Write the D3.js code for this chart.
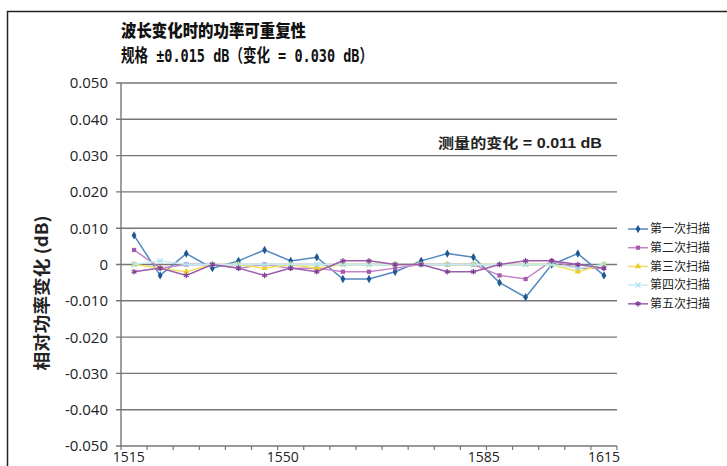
<!DOCTYPE html>
<head>
    <meta charset="utf-8">
    <script src="https://cdnjs.cloudflare.com/ajax/libs/d3/7.8.5/d3.min.js"></script>
    <style>
        body { margin: 0; background: #fff; }
        svg { display: block; }
        .grid line { stroke: #767676; stroke-width: 1.4; }
        .ylab { font-family: "Open Sans", "Noto Sans", sans-serif; font-size: 15px; fill: #222; }
        .xlab { font-family: "Open Sans", "Noto Sans", sans-serif; font-size: 14px; fill: #222; }
        .legend text { font-family: "Noto Sans CJK SC", sans-serif; font-size: 12px; fill: #222; }
        .series path.line { fill: none; stroke-width: 1.5; }
    </style>
</head>
<body>
    <div id="chart"></div>
    <script>
        // sample order along the sweep (19 scan points)
        const samples = [1, 2, 3, 4, 5, 6, 7, 8, 9, 10, 11, 12, 13, 14, 15, 16, 17, 18, 19];

        // wavelength labels (nm) and the sample position they sit under
        const xLabels = ['1515', '1550', '1585', '1615'];
        const xLabelAt = [0.8, 6.7, 14.4, 19];

        const yTicks = [0.05, 0.04, 0.03, 0.02, 0.01, 0, -0.01, -0.02, -0.03, -0.04, -0.05];

        const seriesNames = ['第一次扫描', '第二次扫描', '第三次扫描', '第四次扫描', '第五次扫描'];
        const scan1 = [0.008, -0.003, 0.003, -0.001, 0.001, 0.004, 0.001, 0.002, -0.004, -0.004, -0.002, 0.001, 0.003, 0.002, -0.005, -0.009, 0, 0.003, -0.003];
        const scan2 = [0.004, -0.001, 0, 0, -0.001, 0, -0.001, -0.001, -0.002, -0.002, -0.001, 0, 0, 0, -0.003, -0.004, 0.001, -0.001, -0.001];
        const scan3 = [0, -0.001, -0.002, 0, 0, -0.001, 0, -0.001, 0, 0, 0, 0, 0, 0, 0, 0, 0, -0.002, 0];
        const scan4 = [0, 0.001, 0, 0, 0, 0, 0, 0, 0, 0, 0, 0, 0, 0, 0, 0, 0, -0.001, 0];
        const scan5 = [-0.002, -0.001, -0.003, 0, -0.001, -0.003, -0.001, -0.002, 0.001, 0.001, 0, 0, -0.002, -0.002, 0, 0.001, 0.001, 0, -0.001];

        const width = 727, height = 466;

        const svg = d3.select('#chart').append('svg')
            .attr('width', width)
            .attr('height', height);

        // outer frame
        svg.append('rect')
            .attr('x', 7.5).attr('y', 11.5)
            .attr('width', 760).attr('height', 500)
            .attr('fill', 'none').attr('stroke', '#222').attr('stroke-width', 1.5);

        const x = d3.scaleBand().domain(samples).range([121, 617]);
        const bw = x.bandwidth();
        const cx = d => x(d) + bw / 2;
        const xl = d3.scaleLinear().domain([1, 19]).range([cx(1), cx(19)]);
        const y = d3.scaleLinear().domain([-0.05, 0.05]).range([446, 83]);

        // horizontal grid
        svg.append('g').attr('class', 'grid')
            .selectAll('line').data(yTicks).join('line')
            .attr('x1', 116).attr('x2', 617)
            .attr('y1', d => y(d)).attr('y2', d => y(d));

        // left axis line
        svg.append('line')
            .attr('x1', 121).attr('x2', 121)
            .attr('y1', y(0.05)).attr('y2', y(-0.05))
            .attr('stroke', '#767676').attr('stroke-width', 1.4);

        // y labels
        svg.append('g').selectAll('text').data(yTicks).join('text')
            .attr('class', 'ylab')
            .attr('x', 108)
            .attr('y', d => y(d))
            .attr('dy', '0.36em')
            .attr('text-anchor', 'end')
            .text(d => d === 0 ? '0' : d3.format('.3f')(d).replace('−', '-'));

        // x ticks at category boundaries
        const bounds = samples.map(d => x(d)).concat([x.range()[1]]);
        svg.append('g').selectAll('line').data(bounds).join('line')
            .attr('x1', d => d).attr('x2', d => d)
            .attr('y1', y(-0.05)).attr('y2', y(-0.05) + 4)
            .attr('stroke', '#767676').attr('stroke-width', 1.2);

        svg.append('g').selectAll('text').data(xLabels).join('text')
            .attr('class', 'xlab')
            .attr('x', (d, i) => xl(xLabelAt[i]))
            .attr('y', 462)
            .attr('text-anchor', 'middle')
            .text(d => d);

        // titles
        svg.append('text')
            .attr('x', 121).attr('y', 37)
            .attr('font-family', '"Noto Sans CJK SC", sans-serif')
            .attr('font-weight', 900).attr('font-size', 17)
            .attr('fill', '#111')
            .attr('textLength', 185).attr('lengthAdjust', 'spacingAndGlyphs')
            .text('波长变化时的功率可重复性');

        svg.append('text')
            .attr('x', 121).attr('y', 62)
            .attr('font-family', '"DejaVu Sans Mono", "Noto Sans CJK SC", monospace')
            .attr('font-weight', 'bold').attr('font-size', 18)
            .attr('fill', '#111')
            .attr('textLength', 252).attr('lengthAdjust', 'spacingAndGlyphs')
            .text('规格 ±0.015 dB（变化 = 0.030 dB）');

        svg.append('text')
            .attr('transform', 'translate(48,293) rotate(-90)')
            .attr('text-anchor', 'middle')
            .attr('font-family', '"Noto Sans CJK SC", sans-serif')
            .attr('font-weight', 'bold').attr('font-size', 17)
            .attr('fill', '#222')
            .attr('textLength', 155).attr('lengthAdjust', 'spacingAndGlyphs')
            .text('相对功率变化 (dB)');

        svg.append('text')
            .attr('x', 602).attr('y', 148)
            .attr('text-anchor', 'end')
            .attr('font-family', '"Liberation Sans", "Noto Sans CJK SC", sans-serif')
            .attr('font-weight', 'bold').attr('font-size', 14)
            .attr('fill', '#222')
            .attr('textLength', 164).attr('lengthAdjust', 'spacingAndGlyphs')
            .text('测量的变化 = 0.011 dB');

        // series
        const symX = d3.symbolTimes || d3.symbolX || d3.symbolCross;
        const symStar = d3.symbolAsterisk || d3.symbolCross;
        const series = [
            { name: seriesNames[0], values: scan1, line: '#5287bf', mark: '#1d5891', sym: d3.symbolDiamond, size: 20, stroke: false },
            { name: seriesNames[1], values: scan2, line: '#c484c8', mark: '#a55aae', sym: d3.symbolSquare, size: 18, stroke: false },
            { name: seriesNames[2], values: scan3, line: '#f3df5a', mark: '#eccf2a', sym: d3.symbolTriangle, size: 18, stroke: false },
            { name: seriesNames[3], values: scan4, line: '#c4ecf4', mark: '#a6dfec', sym: symX, size: 18, stroke: true },
            { name: seriesNames[4], values: scan5, line: '#9c5caa', mark: '#7d3d94', sym: symStar, size: 22, stroke: true }
        ];

        const line = d3.line().x((d, i) => cx(samples[i])).y(d => y(d));

        const gs = svg.append('g').selectAll('g').data(series).join('g').attr('class', 'series');
        gs.append('path').attr('class', 'line')
            .attr('stroke', s => s.line)
            .attr('d', s => line(s.values));
        gs.each(function (s) {
            d3.select(this).selectAll('path.mark').data(s.values).join('path')
                .attr('class', 'mark')
                .attr('transform', (d, i) => `translate(${cx(samples[i])},${y(d)})`)
                .attr('d', d3.symbol().type(s.sym).size(s.size))
                .attr('fill', s.stroke ? 'none' : s.mark)
                .attr('stroke', s.stroke ? s.mark : 'none')
                .attr('stroke-width', 1.2);
        });

        // legend
        const legend = svg.append('g').attr('class', 'legend')
            .selectAll('g').data(series).join('g')
            .attr('transform', (d, i) => `translate(628,${229 + i * 18.7})`);
        legend.append('line')
            .attr('x1', 0).attr('x2', 20)
            .attr('stroke', s => s.line).attr('stroke-width', 1.5);
        legend.append('path')
            .attr('transform', 'translate(10,0)')
            .attr('d', s => d3.symbol().type(s.sym).size(s.size)())
            .attr('fill', s => s.stroke ? 'none' : s.mark)
            .attr('stroke', s => s.stroke ? s.mark : 'none')
            .attr('stroke-width', 1.2);
        legend.append('text')
            .attr('x', 22).attr('dy', '0.35em')
            .text(s => s.name);
    </script>
</body>
